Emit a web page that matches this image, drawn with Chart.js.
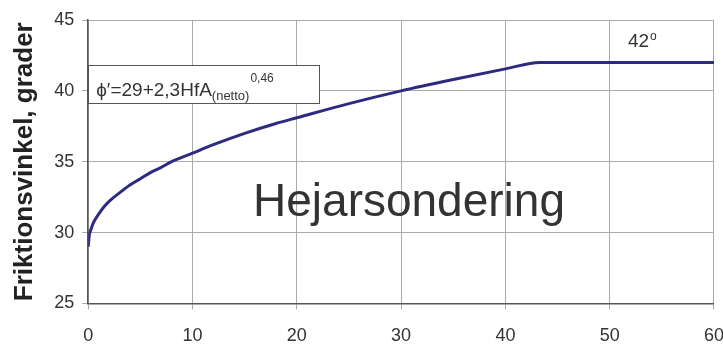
<!DOCTYPE html>
<html>
<head>
<meta charset="utf-8">
<script src="https://cdn.jsdelivr.net/npm/chart.js@4.4.0/dist/chart.umd.min.js"></script>
<style>
  html, body { margin: 0; padding: 0; background: #fff; overflow: hidden; }
  #clip { width: 723px; height: 344px; overflow: hidden; position: relative; }
</style>
</head>
<body>
<div id="clip"><canvas id="myChart" width="740" height="366"></canvas></div>
<script>
// HfA (netto) values and friction angle
const hfa = [0, 0.1, 0.25, 0.5, 1, 1.5, 2, 3, 4, 5, 6, 7, 8, 10, 12, 15, 18, 20, 25, 30, 35, 40, 43.3, 50, 55, 60];
const phi = [29, 29.8, 30.2, 30.7, 31.3, 31.8, 32.2, 32.8, 33.35, 33.8, 34.25, 34.6, 35.0, 35.6, 36.2, 37.0, 37.7, 38.1, 39.1, 40.0, 40.8, 41.55, 42, 42, 42, 42];
const xTicks = [0, 10, 20, 30, 40, 50, 60];
const yTicks = [25, 30, 35, 40, 45];

const ctx = document.getElementById('myChart');
const FONT = '"Liberation Sans", Arial, sans-serif';

const textPlugin = {
    id: 'texts',
    afterDraw(chart) {
        const c = chart.ctx;
        const x = chart.scales.x;
        c.save();
        // formula box
        const bx = x.getPixelForValue(0), by = 65, bw = 231, bh = 38;
        c.fillStyle = '#fff';
        c.fillRect(bx, by, bw, bh);
        c.strokeStyle = '#555';
        c.lineWidth = 1;
        c.strokeRect(Math.round(bx) + 0.5, by + 0.5, bw, bh);
        c.fillStyle = '#333';
        c.font = '19px ' + FONT;
        let tx = bx + 8;
        const base = 96;
        const main = "\u03D5\u2032=29+2,3HfA";
        c.fillText(main, tx, base);
        tx += c.measureText(main).width;
        c.font = '13px ' + FONT;
        c.fillText('(netto)', tx, base + 4);
        tx += c.measureText('(netto)').width + 1;
        c.font = '12px ' + FONT;
        c.fillText('0,46', tx, base - 14);
        // 42 degrees
        c.font = '19px ' + FONT;
        c.fillText('42', 628, 47);
        c.font = '12px ' + FONT;
        c.fillText('o', 650, 40);
        // big label
        c.font = '46px ' + FONT;
        c.textAlign = 'center';
        c.fillText('Hejarsondering', 409, 216);
        c.restore();
    }
};

new Chart(ctx, {
    type: 'scatter',
    data: {
        datasets: [{
            label: 'phi',
            data: hfa.map((v, i) => ({ x: v, y: phi[i] })),
            showLine: true,
            borderColor: '#2e2a80',
            borderWidth: 3,
            pointRadius: 0,
            tension: 0.2,
            cubicInterpolationMode: 'monotone'
        }]
    },
    options: {
        responsive: false,
        animation: false,
        layout: { padding: { left: 5, right: 25, top: 20, bottom: 3 } },
        plugins: { legend: { display: false }, tooltip: { enabled: false } },
        scales: {
            x: {
                type: 'linear',
                min: 0, max: 60,
                afterBuildTicks: (s) => { s.ticks = xTicks.map(v => ({ value: v })); },
                ticks: { color: '#333', font: { size: 18, family: FONT }, padding: 16, maxRotation: 0 },
                grid: { color: '#aaa', tickLength: 6 },
                border: { color: '#555', width: 1.5 }
            },
            y: {
                min: 25, max: 45,
                afterBuildTicks: (s) => { s.ticks = yTicks.map(v => ({ value: v })); },
                ticks: { color: '#333', font: { size: 18, family: FONT }, padding: 8 },
                grid: { color: '#aaa', tickLength: 6 },
                border: { color: '#555', width: 1.5 },
                title: {
                    display: true,
                    text: 'Friktionsvinkel, grader',
                    color: '#222',
                    font: { size: 26, weight: 'bold', family: FONT },
                    padding: { top: 4, bottom: 6 }
                }
            }
        }
    },
    plugins: [textPlugin]
});
</script>
</body>
</html>
